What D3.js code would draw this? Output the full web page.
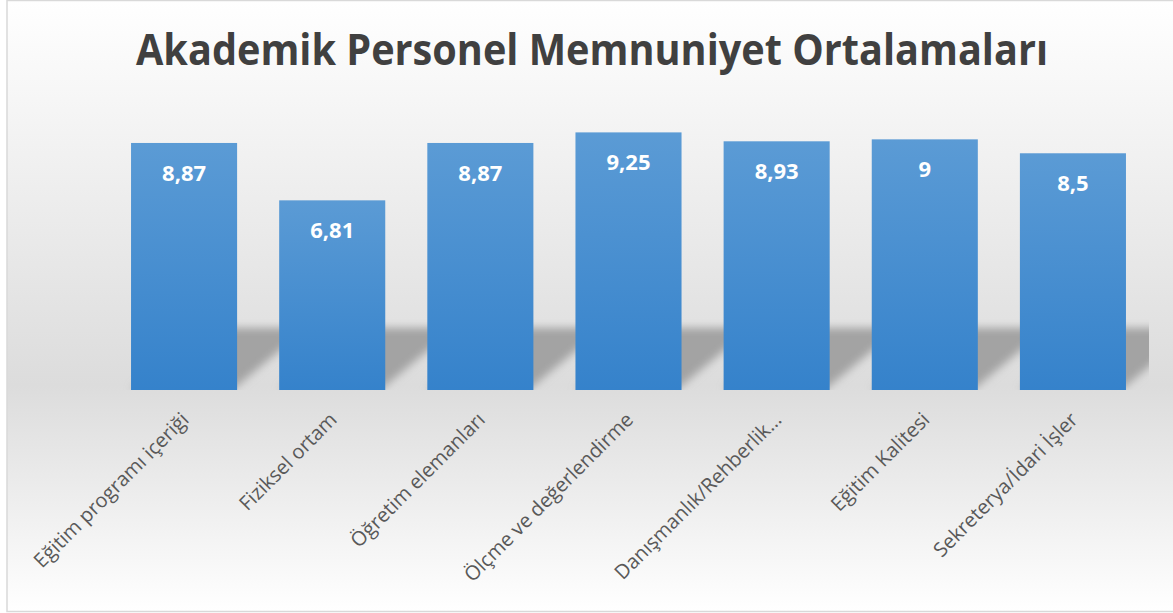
<!DOCTYPE html>
<html>
<head>
<meta charset="utf-8">
<script src="https://cdn.jsdelivr.net/npm/d3@7"></script>
<style>
  html, body { margin: 0; padding: 0; background: #fff; }
  svg { display: block; }
</style>
</head>
<body>
<div id="chart"></div>
<script>

// --------------------------------------
//  Data
// --------------------------------------

const title = "Akademik Personel Memnuniyet Ortalamaları";

const categories = [
  "Eğitim programı içeriği",
  "Fiziksel ortam",
  "Öğretim elemanları",
  "Ölçme ve değerlendirme",
  "Danışmanlık/Rehberlik…",
  "Eğitim Kalitesi",
  "Sekreterya/İdari İşler"
];

const values = [8.87, 6.81, 8.87, 9.25, 8.93, 9, 8.5];

const yDomain = [0, 10];

const data = categories.map((c, i) => ({ cat: c, val: values[i] }));

// --------------------------------------
//  Canvas
// --------------------------------------

const width = 1173;
const height = 613;
const plot = { left: 110, right: 1147, top: 111.5, bottom: 390 };

const fmt = v => String(v).replace(".", ",");

const svg = d3.select("#chart")
  .append("svg")
    .attr("width", width)
    .attr("height", height);

const defs = svg.append("defs");

const bg = defs.append("linearGradient")
    .attr("id", "bg")
    .attr("x1", 0).attr("y1", 0)
    .attr("x2", 0).attr("y2", 1);
bg.append("stop").attr("offset", "0%").attr("stop-color", "#ffffff");
bg.append("stop").attr("offset", "63%").attr("stop-color", "#dcdcdc");
bg.append("stop").attr("offset", "100%").attr("stop-color", "#ffffff");

const barGrad = defs.append("linearGradient")
    .attr("id", "barGrad")
    .attr("x1", 0).attr("y1", 0)
    .attr("x2", 0).attr("y2", 1);
barGrad.append("stop").attr("offset", "0%").attr("stop-color", "#5b9bd5");
barGrad.append("stop").attr("offset", "100%").attr("stop-color", "#3582cb");

defs.append("filter")
    .attr("id", "blur")
    .attr("x", "-20%").attr("y", "-20%")
    .attr("width", "140%").attr("height", "140%")
  .append("feGaussianBlur")
    .attr("stdDeviation", 4.5);

defs.append("clipPath")
    .attr("id", "plotClip")
  .append("rect")
    .attr("x", plot.left)
    .attr("y", plot.top)
    .attr("width", 1149 - plot.left)
    .attr("height", plot.bottom - plot.top);

// chart area + border
svg.append("rect")
    .attr("x", 7)
    .attr("y", 0.5)
    .attr("width", width + 10)
    .attr("height", 611)
    .attr("fill", "url(#bg)")
    .attr("stroke", "#d9d9d9")
    .attr("stroke-width", 1.5);

// --------------------------------------
//  Scales
// --------------------------------------

const x = d3.scaleBand()
    .domain(categories)
    .range([plot.left, plot.right])
    .paddingInner(0.284)
    .paddingOuter(0.142);

const y = d3.scaleLinear()
    .domain(yDomain)
    .range([plot.bottom, plot.top]);

// --------------------------------------
//  Title
// --------------------------------------

svg.append("text")
    .attr("x", 592)
    .attr("y", 65)
    .attr("text-anchor", "middle")
    .attr("font-family", "'Open Sans', sans-serif")
    .attr("font-weight", "bold")
    .attr("font-size", 43)
    .attr("textLength", 912)
    .attr("lengthAdjust", "spacingAndGlyphs")
    .attr("fill", "#404040")
    .text(title);

// --------------------------------------
//  Shadows
// --------------------------------------

const shadowG = svg.append("g")
    .attr("clip-path", "url(#plotClip)")
  .append("g")
    .attr("filter", "url(#blur)");

shadowG.selectAll("polygon")
  .data(data)
  .join("polygon")
    .attr("points", d => {
      const x0 = x(d.cat), x1 = x0 + x.bandwidth(), b = y(0);
      return [[x0, b], [x1 - 5, b], [x1 + 70, b - 62], [x0 + 70, b - 62]]
        .map(p => p.join(",")).join(" ");
    })
    .attr("fill", "#a3a3a3");

// --------------------------------------
//  Bars
// --------------------------------------

svg.selectAll(".bar")
  .data(data)
  .join("rect")
    .attr("class", "bar")
    .attr("x", d => x(d.cat))
    .attr("y", d => y(d.val))
    .attr("width", x.bandwidth())
    .attr("height", d => y(0) - y(d.val))
    .attr("fill", "url(#barGrad)");

svg.selectAll(".val")
  .data(data)
  .join("text")
    .attr("class", "val")
    .attr("x", d => x(d.cat) + x.bandwidth() / 2)
    .attr("y", d => y(d.val) + 38)
    .attr("text-anchor", "middle")
    .attr("font-family", "'Open Sans', sans-serif")
    .attr("font-weight", "bold")
    .attr("font-size", 22)
    .attr("fill", "#ffffff")
    .text(d => fmt(d.val));

// --------------------------------------
//  Axis labels
// --------------------------------------

svg.selectAll(".cat")
  .data(data)
  .join("text")
    .attr("class", "cat")
    .attr("transform", d => `translate(${x(d.cat) + x.bandwidth() / 2 + 6}, 421) rotate(-45)`)
    .attr("text-anchor", "end")
    .attr("font-family", "'Open Sans', sans-serif")
    .attr("font-size", 20)
    .attr("fill", "#595959")
    .text(d => d.cat);

</script>
</body>
</html>
